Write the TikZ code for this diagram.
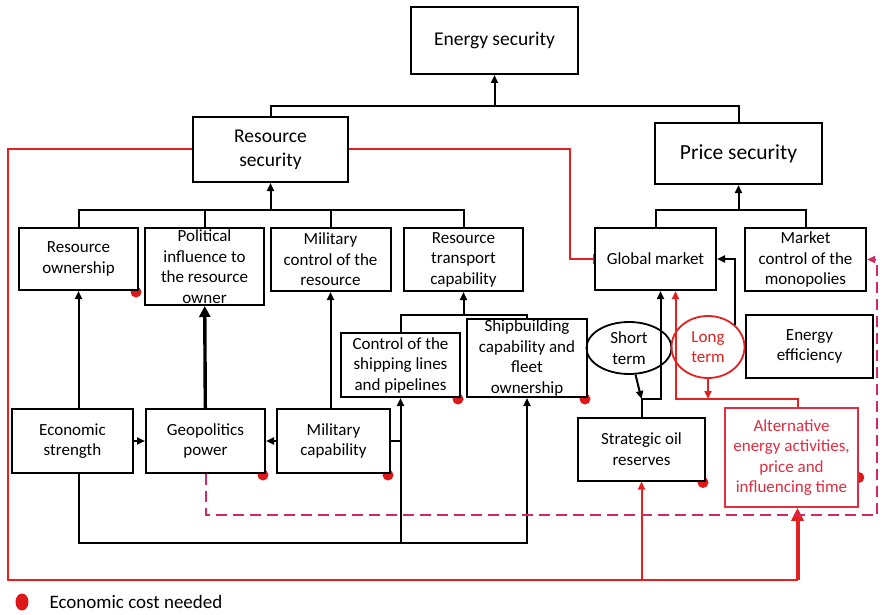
\documentclass[tikz,border=0pt]{standalone}
\usepackage{fontspec}
\setmainfont{Carlito}
\usepackage{xcolor}
\usepackage{tikz}
\usetikzlibrary{arrows.meta}
\usetikzlibrary{shapes.geometric}
\usetikzlibrary{backgrounds}
\definecolor{costred}{RGB}{222,24,24}
\definecolor{linkred}{RGB}{228,32,32}
\definecolor{dashred}{RGB}{214,40,96}
\definecolor{altred}{RGB}{226,44,64}
\newcommand\boxfont{\fontsize{17}{20.5}\selectfont}
\tikzstyle{box}=[draw,line width=2pt,fill=white,align=center,inner xsep=2pt,inner ysep=0pt,font=\boxfont]
\tikzstyle{term}=[ellipse,draw,line width=1.8pt,align=center,inner sep=0pt,font=\boxfont]
\tikzstyle{arhead}=[>/.tip={Triangle[length=8pt,width=7pt]}]
\tikzstyle{ln}=[line width=2pt,arhead]
\tikzstyle{lnr}=[ln,linkred]
\tikzstyle{lnd}=[ln,dashred,dash pattern=on 11pt off 6pt]
\tikzstyle{fat}=[line width=3.4pt,>/.tip={Triangle[length=11pt,width=11pt]}]
\tikzstyle{fatr}=[fat,linkred,line width=4pt,>/.tip={Triangle[length=13pt,width=12pt]}]

\begin{document}
\begin{tikzpicture}[x=1pt,y=-1pt]
\useasboundingbox (0,0) rectangle (886,615);
% goals
\node[box,font=\fontsize{19.5}{24}\selectfont,minimum width=167pt,minimum height=67pt] (es) at (494.5,40.5) {Energy security};
\node[box,font=\fontsize{19.5}{24}\selectfont,minimum width=155pt,minimum height=65pt] (rs) at (270.5,149.5) {Resource\\security};
\node[box,font=\fontsize{21.5}{24}\selectfont,minimum width=167pt,minimum height=61pt] (ps) at (738.5,153.5) {Price security};
% resource side
\node[box,minimum width=119pt,minimum height=62pt] (own) at (78.5,259) {Resource\\ownership};
\node[box,minimum width=119pt,minimum height=77pt] (pol) at (204.5,266.5) {Political\\influence to\\the resource\\owner};
\node[box,minimum width=120pt,minimum height=63pt] (mil) at (330.5,259.5) {Military\\control of the\\resource};
\node[box,minimum width=119pt,minimum height=63pt] (rtc) at (463.5,259.5) {Resource\\transport\\capability};
\node[box,minimum width=119pt,minimum height=64pt] (csl) at (400.5,365) {Control of the\\shipping lines\\and pipelines};
\node[box,minimum width=120pt,minimum height=78pt] (ship) at (527,358) {Shipbuilding\\capability and\\fleet\\ownership};
\node[box,minimum width=121pt,minimum height=64pt] (eco) at (72.5,441) {Economic\\strength};
\node[box,minimum width=119pt,minimum height=64pt] (geo) at (205.5,441) {Geopolitics\\power};
\node[box,minimum width=113pt,minimum height=64pt] (milc) at (333.5,441) {Military\\capability};
% price side
\node[box,minimum width=121pt,minimum height=62pt] (gm) at (655.5,259) {Global market};
\node[box,minimum width=121pt,minimum height=63pt] (mcm) at (805.5,259.5) {Market\\control of the\\monopolies};
\node[box,minimum width=127pt,minimum height=63pt] (eff) at (809.5,346.5) {Energy\\efficiency};
\node[term,minimum width=85pt,minimum height=52pt] (short) at (629,348) {Short\\term};
\node[term,draw=linkred,text=linkred,minimum width=73pt,minimum height=62pt] (long) at (708,347) {Long\\term};
\node[box,minimum width=127pt,minimum height=63pt] (sor) at (641.5,449) {Strategic oil\\reserves};
\node[box,draw=altred,line width=1.6pt,text=altred,minimum width=133pt,minimum height=99pt] (alt) at (791.5,457.5) {Alternative\\energy activities,\\price and\\influencing time};

\coordinate (j1) at (494.5,106);
\coordinate (j2) at (270.5,210);
\coordinate (j3) at (463.5,315);
\coordinate (j4) at (738.5,210);
\coordinate (bl) at (0,543);
\coordinate (sj) at (641.5,399);
\coordinate (lj) at (708,399);
\coordinate (ej) at (735,325);
\coordinate (rg) at (570,259);
\coordinate (rb) at (8,580);
\coordinate (dl) at (877,515);
\coordinate (altin) at ([xshift=6pt]alt.south);
\coordinate (altout) at ([xshift=6pt]alt.north);

% trees
\draw[ln,->] (j1) -- (es);
\draw[ln] (rs.north) |- (ps.north |- j1) -- (ps.north);
\draw[ln,->] (j2) -- (rs);
\draw[ln] (own.north) |- (rtc.north |- j2) -- (rtc.north);
\draw[ln] (pol.north) -- (pol.north |- j2);
\draw[ln] (mil.north) -- (mil.north |- j2);
\draw[ln,->] (j3) -- (rtc);
\draw[ln] (csl.north) |- (ship.north |- j3) -- (ship.north);
\draw[ln,->] (j4) -- (ps);
\draw[ln] (gm.north) |- (mcm.north |- j4) -- (mcm.north);

% resource factors
\draw[ln,->] (eco) -- (geo);
\draw[ln,->] (milc) -- (geo);
\draw[ln,->] (own.south |- eco.north) -- (own.south);
\draw[fat,->] (geo) -- (pol);
\draw[ln,->] (mil.south |- milc.north) -- (mil.south);
\draw[ln,->] (own.south |- eco.south) |- (ship.south |- bl) -- (ship.south);
\draw[ln,->] (csl.south |- bl) -- (csl.south);
\draw[ln] (milc.east) -- (milc.east -| csl.south);

% price factors
\draw[ln,->] (sor.north) -- (sj) -| ([xshift=5pt]gm.south);
\draw[ln,->] (short) -- (sj);
\draw[ln,->] (ej) |- (gm.east);
\draw[lnr,->] (long) -- (lj);
\draw[lnr,->] (altout) |- (lj) -| ([xshift=20pt]gm.south);

% cost links
\draw[lnr,-{Rectangle[length=1.5pt,width=10pt]}] (rs.east) -| (rg) -- (gm.west);
\draw[lnr] (rs.west) -| (rb) -- (rb -| altin);
\draw[fatr,->] (rb -| altin) -- (altin);
\draw[lnr,->] (rb -| sor.south) -- (sor.south);
\draw[lnd,->] (geo.south) |- (dl) |- (mcm.east);

\begin{scope}[on background layer]
\foreach \n in {own,geo,milc,csl,ship,sor}
  \fill[costred] ([shift={(-3pt,-1pt)}]\n.south east) circle (5.5pt);
\fill[costred] ([yshift=-20pt]alt.east) circle (5.5pt);
\end{scope}

% legend
\fill[costred] (22,602) ellipse (6.5pt and 8.5pt);
\node[font=\fontsize{19}{22}\selectfont,anchor=west] (legend) at (46,602) {Economic cost needed};
\end{tikzpicture}
\end{document}
